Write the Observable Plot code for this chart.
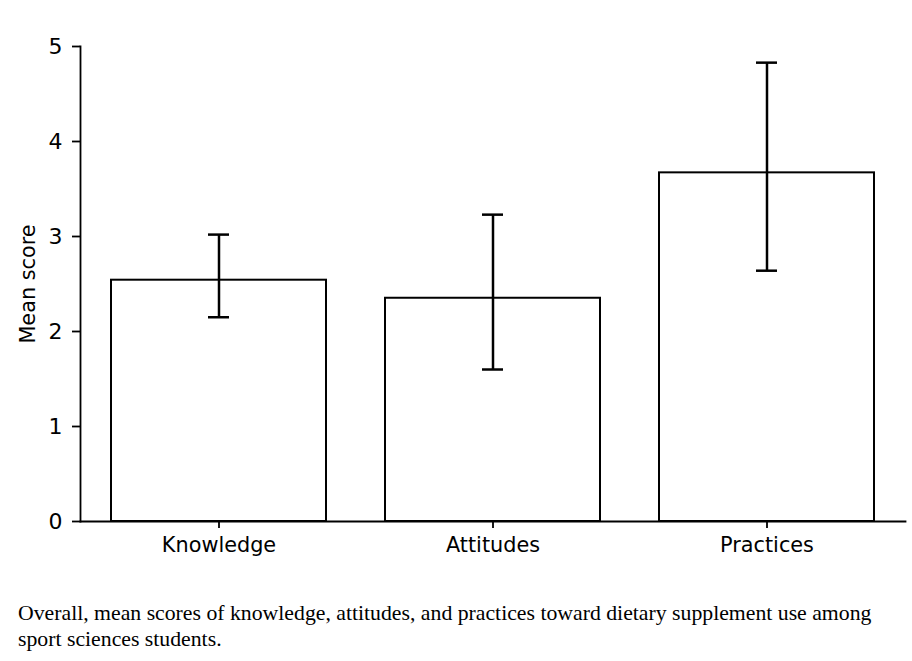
<!DOCTYPE html>
<html>
<head>
<meta charset="utf-8">
<script src="https://cdn.jsdelivr.net/npm/d3@7"></script>
<script src="https://cdn.jsdelivr.net/npm/@observablehq/plot@0.6"></script>
<style>
  html, body { margin: 0; padding: 0; background: #fff; }
  #chart { width: 912px; height: 580px; }
  .caption { font-family: "Liberation Serif", "Times New Roman", serif; font-size: 21.75px; line-height: 26px; color: #000; margin: 20px 0 0 18px; width: 875px; }
</style>
</head>
<body>
<div id="chart"></div>
<div class="caption">Overall, mean scores of knowledge, attitudes, and practices toward dietary supplement use among sport sciences students.</div>
<script>
const categories = ["Knowledge", "Attitudes", "Practices"];
const means = [2.54, 2.35, 3.67];
const errLow = [2.15, 1.60, 2.64];
const errHigh = [3.02, 3.23, 4.83];
const yTicks = [0, 1, 2, 3, 4, 5];

const data = categories.map((c, i) => ({cat: c, mean: means[i], lo: errLow[i], hi: errHigh[i]}));

const chart = Plot.plot({
  width: 912,
  height: 580,
  marginTop: 46,
  marginBottom: 59,
  marginLeft: 80,
  marginRight: 7,
  style: {fontFamily: "'DejaVu Sans', sans-serif", fontSize: "20.8px", color: "#000", background: "#fff", display: "block"},
  x: {type: "band", domain: categories, range: [82, 904], paddingInner: 0.215, paddingOuter: 0.1075, label: null},
  y: {domain: [0, 5], label: null},
  marks: [
    Plot.barY(data, {x: "cat", y: "mean", fill: "#fff", stroke: "#000", strokeWidth: 2}),
    Plot.ruleX(data, {x: "cat", y1: "lo", y2: "hi", stroke: "#000", strokeWidth: 2.5}),
    Plot.tickY(data, {x: "cat", y: "lo", stroke: "#000", strokeWidth: 2.5, insetLeft: 97, insetRight: 97}),
    Plot.tickY(data, {x: "cat", y: "hi", stroke: "#000", strokeWidth: 2.5, insetLeft: 97, insetRight: 97}),
    Plot.frame({anchor: "left", stroke: "#000", strokeWidth: 1.8}),
    Plot.frame({anchor: "bottom", stroke: "#000", strokeWidth: 1.8}),
    Plot.axisY({ticks: yTicks, tickSize: 8, tickPadding: 10, tickFormat: d3.format("d"), fontSize: 22, label: null, strokeWidth: 1.8}),
    Plot.text(["Mean score"], {frameAnchor: "left", dx: -52, rotate: -90, textAnchor: "middle", fontSize: 20.8, text: d => d}),
    Plot.axisX({tickSize: 7, tickPadding: 9, fontSize: 20.8, label: null, strokeWidth: 1.8})
  ]
});
document.getElementById("chart").appendChild(chart);
</script>
</body>
</html>
